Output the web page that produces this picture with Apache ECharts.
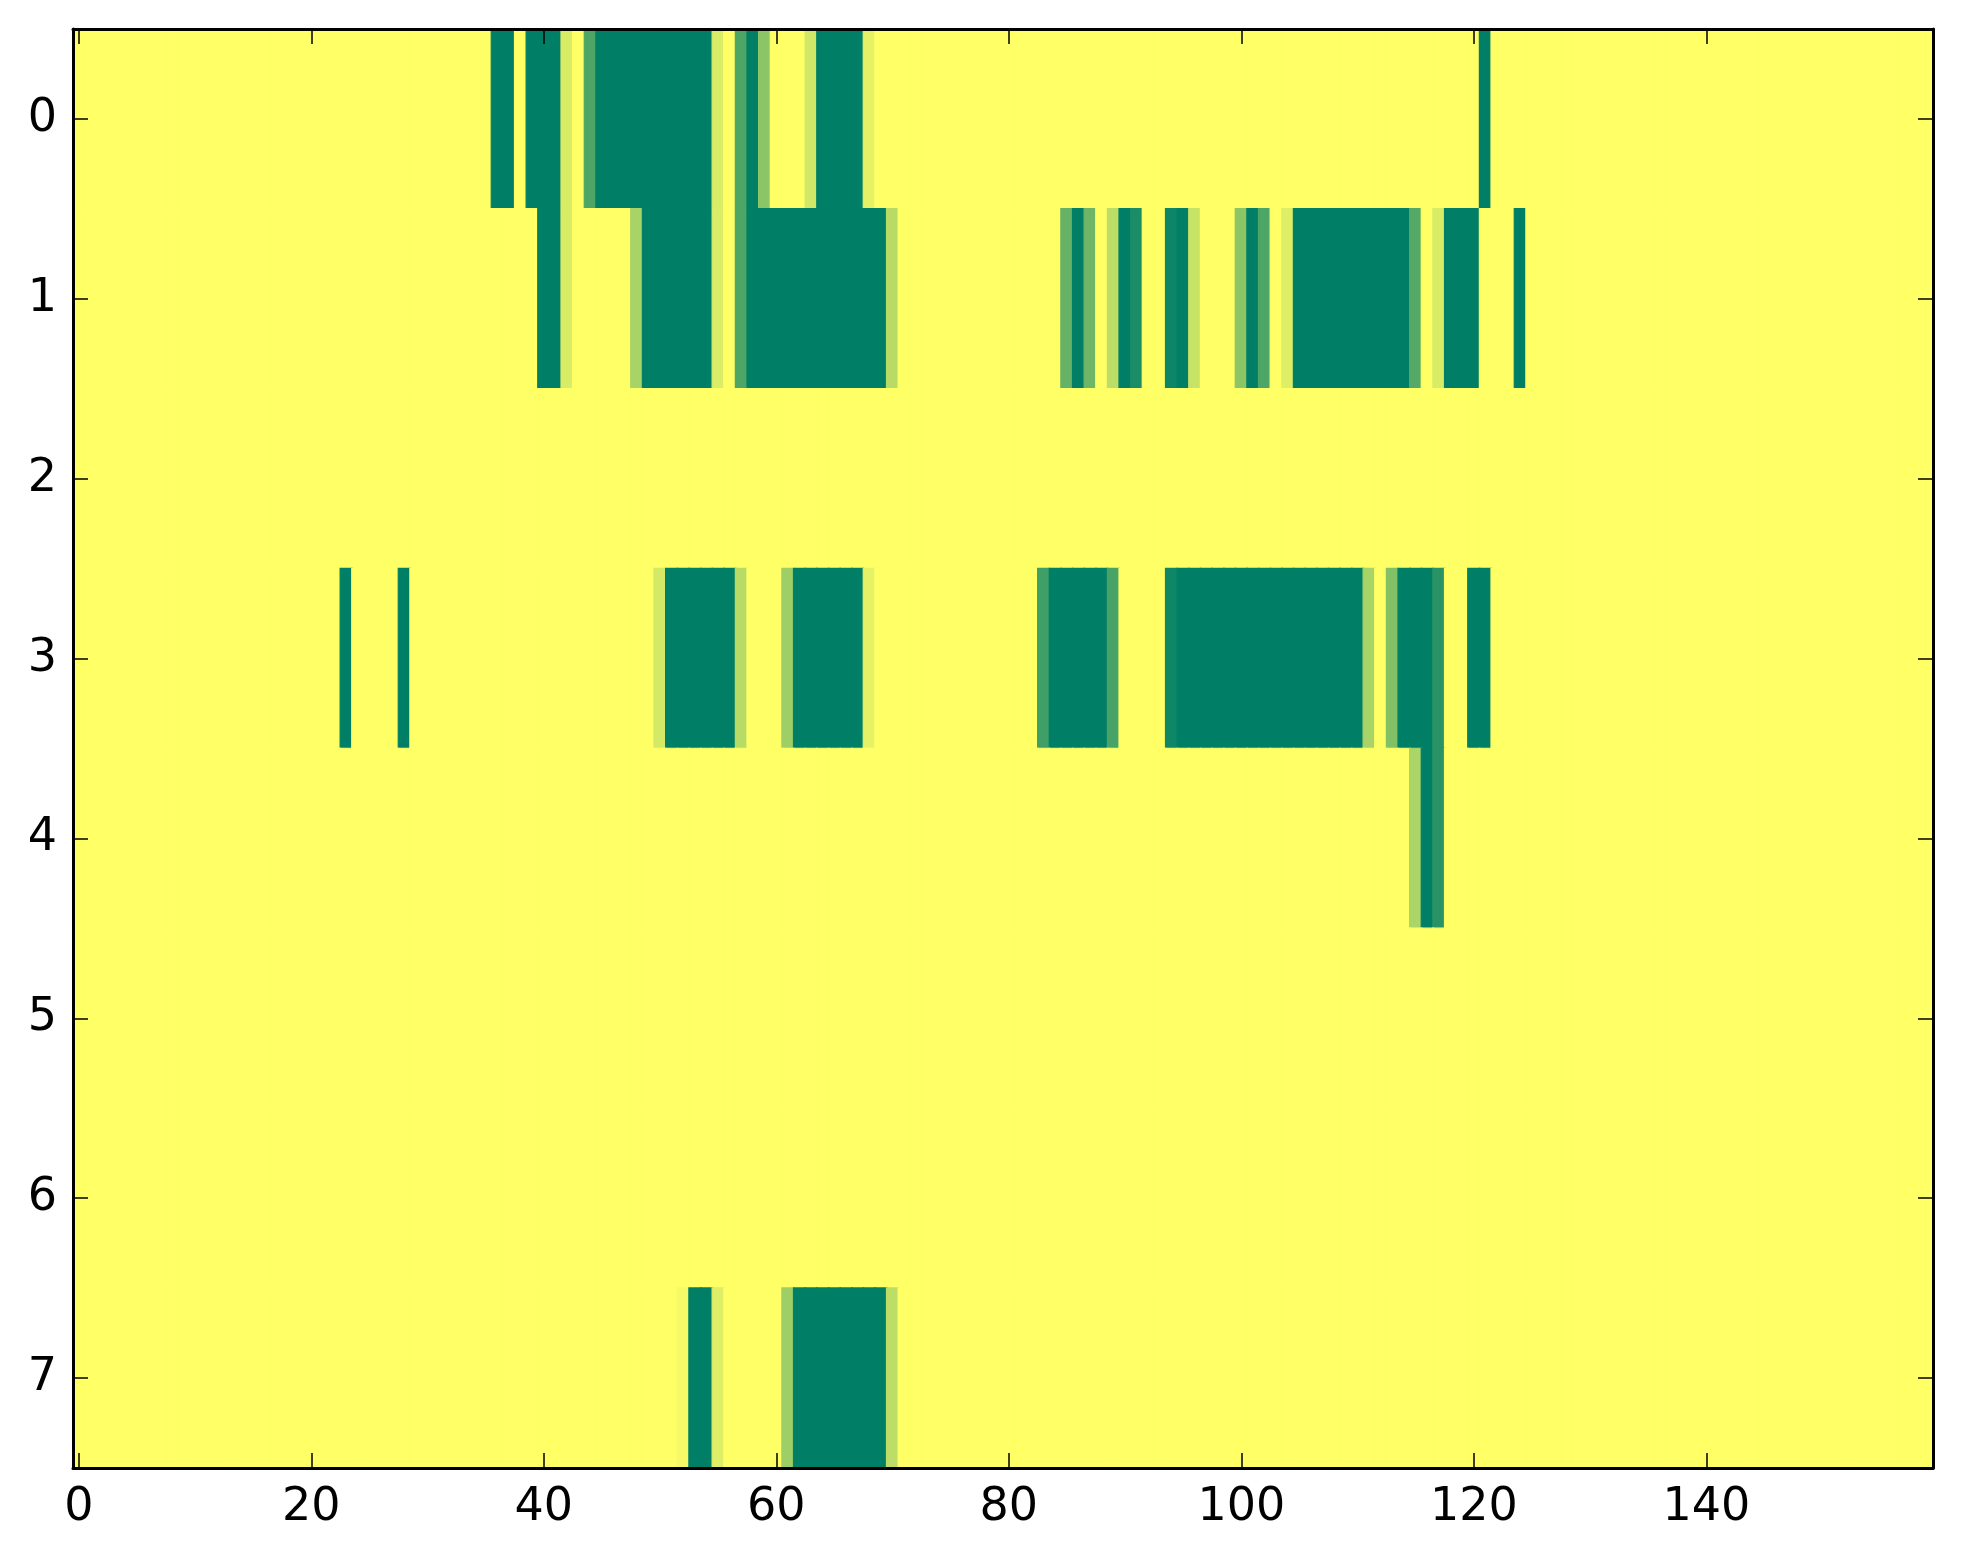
<!DOCTYPE html>
<html>
<head>
<meta charset="utf-8">
<script src="https://cdn.jsdelivr.net/npm/echarts@6/dist/echarts.min.js"></script>
<style>
html,body{margin:0;padding:0;background:#fff;}
#chart{width:1963px;height:1564px;}
</style>
</head>
<body>
<div id="chart"></div>
<script>
// Column indices 0..159, row indices 0..7
var xTickLabels = [0, 20, 40, 60, 80, 100, 120, 140];
var yLabels = ['0', '1', '2', '3', '4', '5', '6', '7'];
var nCols = 160;

// Each row: 160 cell values (0 = dark green, 1 = yellow), written 20 per line
var row0 = [
  1,1,1,1,1,1,1,1,1,1,1,1,1,1,1,1,1,1,1,1,
  1,1,1,1,1,1,1,1,1,1,1,1,1,1,1,1,0,0,1,0,
  0,0,.85,1,.3,0,0,0,0,0,0,0,0,0,0,.85,1,.3,0,.55,
  1,1,1,.82,0,0,0,0,.9,1,1,1,1,1,1,1,1,1,1,1,
  1,1,1,1,1,1,1,1,1,1,1,1,1,1,1,1,1,1,1,1,
  1,1,1,1,1,1,1,1,1,1,1,1,1,1,1,1,1,1,1,1,
  1,0,1,1,1,1,1,1,1,1,1,1,1,1,1,1,1,1,1,1,
  1,1,1,1,1,1,1,1,1,1,1,1,1,1,1,1,1,1,1,1
];
var row1 = [
  1,1,1,1,1,1,1,1,1,1,1,1,1,1,1,1,1,1,1,1,
  1,1,1,1,1,1,1,1,1,1,1,1,1,1,1,1,1,1,1,1,
  0,0,.85,1,1,1,1,1,.66,0,0,0,0,0,0,.86,1,.3,0,0,
  0,0,0,0,0,0,0,0,0,0,.72,1,1,1,1,1,1,1,1,1,
  1,1,1,1,1,.4,0,.43,1,.74,0,.1,1,1,.05,0,.78,1,1,1,
  .55,0,.3,1,.87,0,0,0,0,0,0,0,0,0,0,.33,1,.85,0,0,
  0,1,1,1,0,1,1,1,1,1,1,1,1,1,1,1,1,1,1,1,
  1,1,1,1,1,1,1,1,1,1,1,1,1,1,1,1,1,1,1,1
];
var row2 = [
  1,1,1,1,1,1,1,1,1,1,1,1,1,1,1,1,1,1,1,1,
  1,1,1,1,1,1,1,1,1,1,1,1,1,1,1,1,1,1,1,1,
  1,1,1,1,1,1,1,1,1,1,1,1,1,1,1,1,1,1,1,1,
  1,1,1,1,1,1,1,1,1,1,1,1,1,1,1,1,1,1,1,1,
  1,1,1,1,1,1,1,1,1,1,1,1,1,1,1,1,1,1,1,1,
  1,1,1,1,1,1,1,1,1,1,1,1,1,1,1,1,1,1,1,1,
  1,1,1,1,1,1,1,1,1,1,1,1,1,1,1,1,1,1,1,1,
  1,1,1,1,1,1,1,1,1,1,1,1,1,1,1,1,1,1,1,1
];
var row3 = [
  1,1,1,1,1,1,1,1,1,1,1,1,1,1,1,1,1,1,1,1,
  1,1,1,0,1,1,1,1,0,1,1,1,1,1,1,1,1,1,1,1,
  1,1,1,1,1,1,1,1,1,1,.83,0,0,0,0,0,0,.72,1,1,
  1,.62,0,0,0,0,0,0,.9,1,1,1,1,1,1,1,1,1,1,1,
  1,1,1,.25,0,0,0,0,0,.28,1,1,1,1,.06,0,0,0,0,0,
  0,0,0,0,0,0,0,0,0,0,0,.66,1,.51,0,0,0,.16,1,1,
  0,0,1,1,1,1,1,1,1,1,1,1,1,1,1,1,1,1,1,1,
  1,1,1,1,1,1,1,1,1,1,1,1,1,1,1,1,1,1,1,1
];
var row4 = [
  1,1,1,1,1,1,1,1,1,1,1,1,1,1,1,1,1,1,1,1,
  1,1,1,1,1,1,1,1,1,1,1,1,1,1,1,1,1,1,1,1,
  1,1,1,1,1,1,1,1,1,1,1,1,1,1,1,1,1,1,1,1,
  1,1,1,1,1,1,1,1,1,1,1,1,1,1,1,1,1,1,1,1,
  1,1,1,1,1,1,1,1,1,1,1,1,1,1,1,1,1,1,1,1,
  1,1,1,1,1,1,1,1,1,1,1,1,1,1,1,.67,0,.16,1,1,
  1,1,1,1,1,1,1,1,1,1,1,1,1,1,1,1,1,1,1,1,
  1,1,1,1,1,1,1,1,1,1,1,1,1,1,1,1,1,1,1,1
];
var row5 = [
  1,1,1,1,1,1,1,1,1,1,1,1,1,1,1,1,1,1,1,1,
  1,1,1,1,1,1,1,1,1,1,1,1,1,1,1,1,1,1,1,1,
  1,1,1,1,1,1,1,1,1,1,1,1,1,1,1,1,1,1,1,1,
  1,1,1,1,1,1,1,1,1,1,1,1,1,1,1,1,1,1,1,1,
  1,1,1,1,1,1,1,1,1,1,1,1,1,1,1,1,1,1,1,1,
  1,1,1,1,1,1,1,1,1,1,1,1,1,1,1,1,1,1,1,1,
  1,1,1,1,1,1,1,1,1,1,1,1,1,1,1,1,1,1,1,1,
  1,1,1,1,1,1,1,1,1,1,1,1,1,1,1,1,1,1,1,1
];
var row6 = [
  1,1,1,1,1,1,1,1,1,1,1,1,1,1,1,1,1,1,1,1,
  1,1,1,1,1,1,1,1,1,1,1,1,1,1,1,1,1,1,1,1,
  1,1,1,1,1,1,1,1,1,1,1,1,1,1,1,1,1,1,1,1,
  1,1,1,1,1,1,1,1,1,1,1,1,1,1,1,1,1,1,1,1,
  1,1,1,1,1,1,1,1,1,1,1,1,1,1,1,1,1,1,1,1,
  1,1,1,1,1,1,1,1,1,1,1,1,1,1,1,1,1,1,1,1,
  1,1,1,1,1,1,1,1,1,1,1,1,1,1,1,1,1,1,1,1,
  1,1,1,1,1,1,1,1,1,1,1,1,1,1,1,1,1,1,1,1
];
var row7 = [
  1,1,1,1,1,1,1,1,1,1,1,1,1,1,1,1,1,1,1,1,
  1,1,1,1,1,1,1,1,1,1,1,1,1,1,1,1,1,1,1,1,
  1,1,1,1,1,1,1,1,1,1,1,1,.96,0,0,.87,1,1,1,1,
  1,.62,0,0,0,0,0,0,0,0,.74,1,1,1,1,1,1,1,1,1,
  1,1,1,1,1,1,1,1,1,1,1,1,1,1,1,1,1,1,1,1,
  1,1,1,1,1,1,1,1,1,1,1,1,1,1,1,1,1,1,1,1,
  1,1,1,1,1,1,1,1,1,1,1,1,1,1,1,1,1,1,1,1,
  1,1,1,1,1,1,1,1,1,1,1,1,1,1,1,1,1,1,1,1
];
var rows = [row0, row1, row2, row3, row4, row5, row6, row7];

var xCats = [];
for (var i = 0; i < nCols; i++) xCats.push(String(i));

// matplotlib "summer" colour map: (v, 0.5 + 0.5v, 0.4)
var lowColor = '#007f66', highColor = '#ffff66';
function summer(v) {
  var r = Math.round(255 * v), g = Math.round(127.5 + 127.5 * v), b = 102;
  return 'rgb(' + r + ',' + g + ',' + b + ')';
}

var cells = [];
rows.forEach(function (r, ri) {
  r.forEach(function (v, ci) {
    cells.push({ value: [ci, ri, v], itemStyle: { borderColor: summer(v), borderWidth: 1.2 } });
  });
});

var FONT = 'DejaVu Sans';
var FS = 46;
function isXTick(i) { return xTickLabels.indexOf(i) >= 0; }
var tickStyle = { color: '#000', width: 1.5 };
var lineStyle = { color: '#000', width: 3 };

var chart = echarts.init(document.getElementById('chart'), null, { renderer: 'canvas' });
chart.setOption({
  animation: false,
  backgroundColor: '#ffffff',
  grid: { left: 73, top: 29, width: 1860, height: 1439, containLabel: false },
  xAxis: [
    {
      type: 'category', data: xCats, position: 'bottom', z: 10,
      axisLine: { show: true, lineStyle: lineStyle },
      axisTick: { show: true, inside: true, length: 15, alignWithLabel: true,
        interval: function (i) { return isXTick(i); }, lineStyle: tickStyle },
      axisLabel: { show: true, interval: function (i) { return isXTick(i); },
        color: '#000', fontFamily: FONT, fontSize: FS, margin: 17 },
      splitLine: { show: false }
    },
    {
      type: 'category', data: xCats, position: 'top', z: 10,
      axisLine: { show: true, lineStyle: lineStyle },
      axisTick: { show: true, inside: true, length: 15, alignWithLabel: true,
        interval: function (i) { return isXTick(i); }, lineStyle: tickStyle },
      axisLabel: { show: false },
      splitLine: { show: false }
    }
  ],
  yAxis: [
    {
      type: 'category', data: yLabels, inverse: true, position: 'left', z: 10,
      axisLine: { show: true, lineStyle: lineStyle },
      axisTick: { show: true, inside: true, length: 15, alignWithLabel: true, interval: 0, lineStyle: tickStyle },
      axisLabel: { show: true, interval: 0, color: '#000', fontFamily: FONT, fontSize: FS, margin: 16 },
      splitLine: { show: false }
    },
    {
      type: 'category', data: yLabels, inverse: true, position: 'right', z: 10,
      axisLine: { show: true, lineStyle: lineStyle },
      axisTick: { show: true, inside: true, length: 15, alignWithLabel: true, interval: 0, lineStyle: tickStyle },
      axisLabel: { show: false },
      splitLine: { show: false }
    }
  ],
  visualMap: {
    show: false, type: 'continuous', min: 0, max: 1, dimension: 2,
    inRange: { color: [lowColor, highColor] }
  },
  series: [{
    type: 'heatmap', xAxisIndex: 0, yAxisIndex: 0, data: cells, z: 2,
    progressive: 0,
    emphasis: { disabled: true }
  }]
});
</script>
</body>
</html>
